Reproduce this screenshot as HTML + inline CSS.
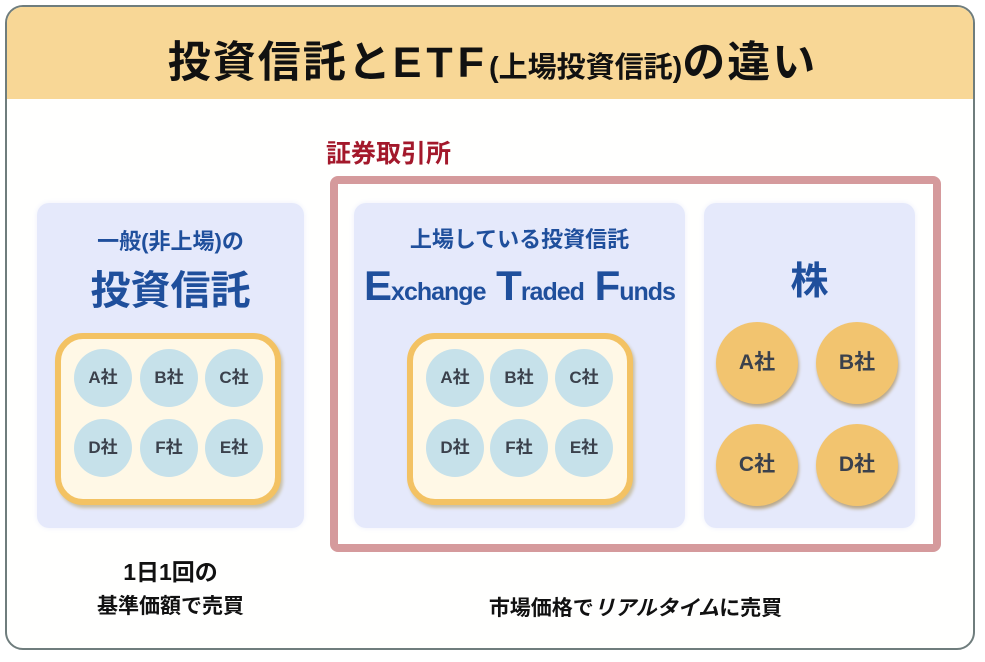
<!DOCTYPE html>
<html><head><meta charset="utf-8"><style>
*{margin:0;padding:0;box-sizing:border-box}
body{width:985px;height:662px;background:#fff;position:relative;overflow:hidden;font-family:"Liberation Sans","Noto Sans CJK JP",sans-serif;font-weight:bold}
.abs{position:absolute}
.frame{left:5px;top:5px;width:970px;height:645px;border:2px solid #6f7d7d;border-radius:18px;overflow:hidden;background:#fffffe}
.hdr{left:0;top:0;width:100%;height:92px;background:#f8d796}
.t{position:absolute;white-space:nowrap;text-align:center}
.panel{background:#e5e9fb;border-radius:12px;box-shadow:0 0 6px #eef0fc}
.yb{border:6px solid #f3c263;background:#fff8e6;border-radius:28px;box-shadow:2px 3px 3px #c8c0a8}
.c{position:absolute;width:58px;height:58px;border-radius:50%;background:#c6e1ea;color:#3b414c;font-size:17px;line-height:58px;text-align:center}
.o{position:absolute;width:82px;height:82px;border-radius:50%;background:#f2c46f;color:#3b414c;font-size:21px;line-height:82px;text-align:center;box-shadow:1px 3px 3px #b9a88a}
.blue{color:#1f4f9c}
</style></head><body>
<div class="abs frame"><div class="abs hdr"></div></div>
<div class="t" style="left:0;width:985px;top:28px;font-size:43px;color:#111;letter-spacing:2px">投資信託と<span style="letter-spacing:5px">ETF</span><span style="font-size:29px;letter-spacing:0">(上場投資信託)</span>の違い</div>
<div class="t" style="left:326px;top:134px;font-size:25px;color:#a3182b">証券取引所</div>
<div class="abs" style="left:330px;top:176px;width:611px;height:376px;border:8px solid #d59a9c;border-radius:8px"></div>

<div class="abs panel" style="left:37px;top:203px;width:267px;height:325px"></div>
<div class="abs panel" style="left:354px;top:203px;width:331px;height:325px"></div>
<div class="abs panel" style="left:704px;top:203px;width:211px;height:325px"></div>

<div class="t blue" style="left:37px;width:267px;top:224px;font-size:22px">一般(非上場)の</div>
<div class="t blue" style="left:37px;width:267px;top:258px;font-size:40px">投資信託</div>
<div class="t blue" style="left:354px;width:331px;top:222px;font-size:22px">上場している投資信託</div>
<div class="t blue" style="left:354px;width:331px;top:262px;font-size:25px;letter-spacing:-1px"><span style="font-size:42px">E</span>xchange<span style="font-size:42px"> T</span>raded<span style="font-size:42px"> F</span>unds</div>
<div class="t blue" style="left:704px;width:211px;top:250px;font-size:38px">株</div>

<div class="abs yb" style="left:55px;top:333px;width:226px;height:172px"></div>
<div class="abs yb" style="left:407px;top:333px;width:226px;height:172px"></div>

<div class="c" style="left:74px;top:349px">A社</div><div class="c" style="left:140px;top:349px">B社</div><div class="c" style="left:205px;top:349px">C社</div>
<div class="c" style="left:74px;top:419px">D社</div><div class="c" style="left:140px;top:419px">F社</div><div class="c" style="left:205px;top:419px">E社</div>
<div class="c" style="left:426px;top:349px">A社</div><div class="c" style="left:490px;top:349px">B社</div><div class="c" style="left:555px;top:349px">C社</div>
<div class="c" style="left:426px;top:419px">D社</div><div class="c" style="left:490px;top:419px">F社</div><div class="c" style="left:555px;top:419px">E社</div>

<div class="o" style="left:716px;top:322px">A社</div><div class="o" style="left:816px;top:322px">B社</div>
<div class="o" style="left:716px;top:424px">C社</div><div class="o" style="left:816px;top:424px">D社</div>

<div class="t" style="left:37px;width:267px;top:553px;font-size:23px;color:#111">1日1回の</div>
<div class="t" style="left:37px;width:267px;top:590px;font-size:21px;color:#111">基準価額で売買</div>
<div class="t" style="left:330px;width:611px;top:592px;font-size:21px;color:#111">市場価格で<span style="font-style:italic">リアルタイム</span>に売買</div>
</body></html>
